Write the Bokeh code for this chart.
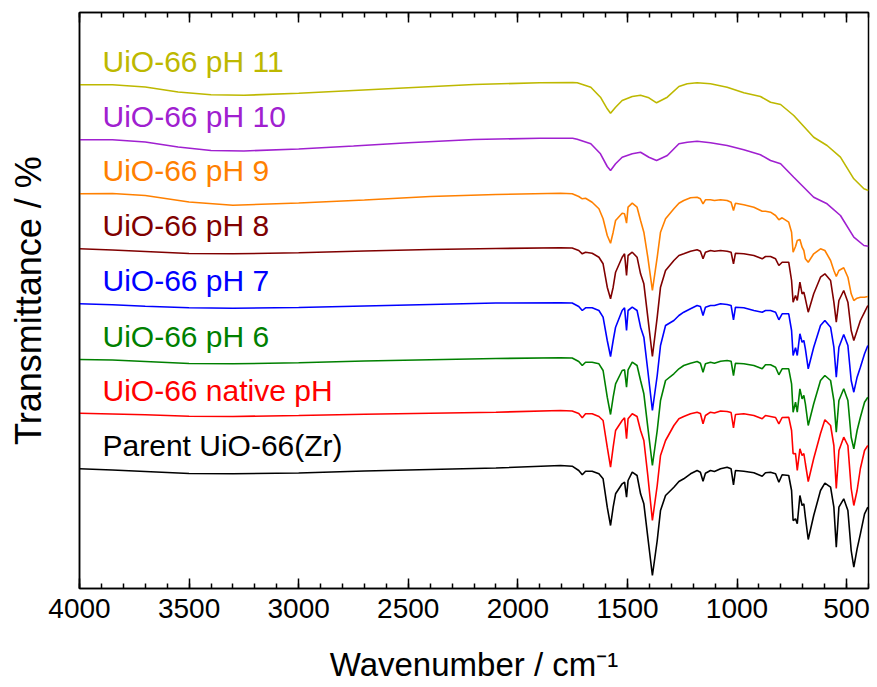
from bokeh.plotting import figure
from bokeh.models import (Range1d, LinearAxis, SingleIntervalTicker, FixedTicker,
                          CustomJSTickFormatter, ColumnDataSource)
from bokeh.core.properties import value
from bokeh.embed import file_html
from bokeh.resources import INLINE

# ---------------- data (wavenumber / cm-1, transmittance in arbitrary offset units) ----------------
wn_fine = [4000, 3850, 3700, 3500, 3300, 3000, 2700, 2400, 2100, 1805,
           1752, 1722, 1706, 1691, 1661, 1630, 1611, 1592, 1577, 1565,
           1554, 1524, 1513, 1504, 1497, 1478, 1456, 1440, 1425, 1407,
           1386, 1364, 1349, 1326, 1288, 1265, 1243, 1212, 1182, 1167,
           1155, 1144, 1121, 1103, 1075, 1045, 1027, 1016, 1007, 969,
           923, 885, 870, 847, 824, 809, 794, 764, 751, 744,
           733, 725, 713, 703, 695, 688, 675, 650, 619, 599,
           573, 558, 547, 535, 513, 494, 479, 467, 452, 437, 418, 403]

t_parent = [119.7, 118.5, 117, 115, 114.7, 115.5, 117.5, 119, 120.5, 123,
            122.3, 118, 113.7, 117.3, 117.3, 114.7, 109.7, 81.3, 63, 81.3,
            94.7, 104.7, 106.3, 91.3, 108, 116.3, 113, 94.7, 84.7, 51.3,
            13, 48, 78, 93, 101.3, 107, 109.7, 114.7, 118, 116.3,
            107.3, 115.3, 118, 117, 119.7, 121.3, 119.7, 103.7, 118, 117.3,
            115.7, 112.3, 115.7, 116.3, 114.7, 106.3, 113.7, 113, 98, 68,
            69.7, 64.7, 93, 83, 84.7, 71.3, 49, 73, 98, 105.3,
            101.3, 81.3, 41.3, 81.3, 89.7, 78, 38, 21.3, 39.7, 54.7, 74.7, 81.3]

t_native = [175.3, 174.5, 173.7, 172.3, 172, 173, 174.3, 175.3, 176.3, 178,
            177.5, 175, 170.7, 174.7, 174.7, 172, 168, 141.3, 121.3, 141.3,
            158, 168, 170.7, 149.7, 169.7, 174.7, 172, 158, 148, 113,
            68, 103, 133, 148, 163, 169.7, 172, 174.7, 176.3, 175,
            164.7, 173, 176.3, 175.5, 177.5, 177, 176, 160.7, 174, 174.7,
            173, 169.7, 173, 172, 171, 164.7, 171, 171.3, 158, 134.7,
            135, 118, 139.7, 133, 135, 125, 107, 130, 155, 168.7,
            163, 143, 100, 138, 151.3, 143, 100, 83, 98, 120, 138, 143]

t_ph6 = [229, 228.5, 227, 225, 224.7, 225.7, 227.5, 228.7, 230, 230.7,
         230.5, 227, 223, 226.3, 226.3, 224.7, 218, 191.3, 174, 191.3,
         204.7, 218, 218.7, 201.3, 218.7, 226.3, 223, 208, 194.7, 161.3,
         123, 158, 188, 208, 214.7, 219.7, 223, 225.3, 227, 225.3,
         216.3, 224.7, 226.3, 225.3, 227.3, 228, 227.3, 213, 225.3, 224.7,
         223, 219.7, 223.7, 223.7, 221.3, 213.7, 219.7, 219.7, 204.7, 176.3,
         186.3, 176.3, 199.7, 189.7, 193, 184.7, 163, 184.7, 208, 213,
         208, 188, 156.3, 188, 199.7, 188, 151.3, 139.7, 158, 171.3, 186.3, 191.3]

t_ph7 = [284.7, 283.7, 282.3, 280.7, 280.3, 281, 282.5, 284, 285.5, 285.7,
         285.5, 282, 278, 280.7, 280.7, 278, 271.3, 248, 232, 248,
         261.3, 278, 280.7, 258, 278, 281.3, 278, 261.3, 251.3, 218,
         178, 213, 243, 263, 268, 273, 276.3, 279.7, 283, 282,
         273, 281.3, 283, 283, 284.7, 284, 283, 268.7, 281.3, 280.7,
         278, 276.3, 278, 278, 276.3, 268.7, 274.7, 274.7, 258, 233,
         240.7, 233, 254.7, 246.3, 248, 239.7, 219.7, 241.3, 263, 268,
         261.3, 241.3, 211.3, 241.3, 254, 243, 208, 196.3, 211.3, 221.3, 234.7, 243]

t_ph8 = [339.7, 338.5, 337, 335, 334.7, 335.7, 337.5, 339, 340, 340.7,
         340.5, 338, 334.7, 336.3, 335.3, 331.3, 324.7, 301.3, 289.7, 301.3,
         316.3, 331.3, 334.7, 313, 333, 336.3, 331.3, 314.7, 304.7, 271.3,
         232, 271.3, 301.3, 318, 328, 333, 334.7, 337.3, 338.7, 337.3,
         329.7, 336.3, 338, 337.3, 338, 337.3, 336.3, 324.7, 335.3, 334.7,
         333, 329.7, 332, 332, 329.7, 323, 326.3, 326.3, 308, 286.3,
         293, 288, 306.3, 294.7, 296.3, 289.7, 276.3, 294.7, 311.3, 314.7,
         308, 286.3, 266.3, 288, 298, 286.3, 258, 248, 258, 268, 276.3, 283]

t_ph9 = [394.7, 395, 393, 386.5, 383.3, 385.5, 388.5, 392, 394, 395.3,
         394.7, 392, 389.7, 390.3, 386.3, 379.7, 369.7, 353, 345.3, 356.3,
         368, 375.3, 374.7, 365.3, 381.3, 385.3, 381.3, 368, 356.3, 331.3,
         298, 331.3, 356.3, 369.7, 379.7, 385.3, 388, 390.7, 391.3, 389.7,
         384.7, 388.7, 388.7, 388, 388.7, 388, 386.3, 378, 385.3, 383.7,
         381.3, 377.3, 377.3, 376.3, 373, 368.7, 370.7, 366.3, 356.3, 336.3,
         342, 348, 349, 341.3, 338, 329.7, 326.3, 334.7, 339.7, 338,
         328, 318, 312, 318, 320.7, 311.3, 294.7, 288, 290.3, 291.3, 291.3, 292]

wn_broad = [4000, 3850, 3700, 3550, 3400, 3250, 3000, 2750, 2500, 2200,
            1900, 1750, 1729, 1667, 1623, 1592, 1577, 1554, 1524, 1478,
            1440, 1402, 1367, 1318, 1265, 1227, 1182, 1121, 1045, 969,
            893, 847, 801, 741, 650, 589, 528, 467, 421, 400]

t_ph10 = [448.7, 448.7, 446.5, 441.5, 438, 437.5, 439.5, 442.5, 445.7, 449,
          450.3, 450.3, 449.3, 444.7, 434.7, 422, 418, 424.7, 431.3, 434.7,
          436.3, 431.3, 428, 433, 444.7, 446.3, 447.3, 445.7, 443, 438.7,
          433.7, 428, 424.7, 411.3, 391.3, 384.7, 373, 351.3, 343, 342.3]

t_ph11 = [503.7, 503.7, 501.5, 496.5, 493.7, 493.2, 495.3, 498, 500.7, 504,
          505.7, 506, 505.7, 501.3, 491.3, 479.7, 475.3, 481.3, 488, 492,
          493.3, 490.7, 485.7, 491.3, 502, 504.7, 505.7, 504.7, 501.3, 495.7,
          492, 486.3, 484, 473, 451.3, 443, 431.3, 409.7, 399.7, 398]

series_names = ["Parent UiO-66(Zr)", "UiO-66 native pH", "UiO-66 pH 6", "UiO-66 pH 7",
                "UiO-66 pH 8", "UiO-66 pH 9", "UiO-66 pH 10", "UiO-66 pH 11"]
series_x = [wn_fine, wn_fine, wn_fine, wn_fine, wn_fine, wn_fine, wn_broad, wn_broad]
series_y = [t_parent, t_native, t_ph6, t_ph7, t_ph8, t_ph9, t_ph10, t_ph11]
series_colors = ["#000000", "#FF0000", "#008000", "#0000FF",
                 "#800000", "#FF8000", "#A020D0", "#BDB800"]

x_ticks_major = 500

# ---------------- figure ----------------
FONT = "Liberation Sans"

p = figure(frame_width=789, frame_height=576,
           x_range=Range1d(4000, 400), y_range=Range1d(0, 576),
           output_backend="svg", toolbar_location=None,
           min_border_left=79, min_border_right=9, min_border_top=12, min_border_bottom=99)
p.grid.visible = False
p.outline_line_color = "black"
p.outline_line_width = 1.5
p.background_fill_color = "white"
p.border_fill_color = "white"

for xs, ys, c in zip(series_x, series_y, series_colors):
    p.line(xs, ys, line_color=c, line_width=1.6)

# labels above each trace
lab_src = ColumnDataSource(dict(
    x=[4000 - 105] * len(series_names),
    y=[ys[0] + 23 for ys in series_y],
    text=series_names,
    color=series_colors,
))
p.text(x="x", y="y", text="text", text_color="color", source=lab_src,
       text_font=value(FONT), text_font_size="30px",
       text_align="left", text_baseline="alphabetic")

# bottom axis
ax = p.xaxis[0]
ax.ticker = SingleIntervalTicker(interval=x_ticks_major, num_minor_ticks=5)
ax.major_tick_in = 10
ax.major_tick_out = 0
ax.minor_tick_in = 5
ax.minor_tick_out = 0
ax.axis_line_width = 1.5
ax.major_tick_line_width = 1.5
ax.minor_tick_line_width = 1.5
ax.major_label_text_font = FONT
ax.major_label_text_font_size = "28px"
ax.major_label_text_color = "black"
ax.major_label_standoff = 10
ax.axis_label = "Wavenumber / cm\u207b\u00b9"
ax.axis_label_text_font = FONT
ax.axis_label_text_font_size = "33px"
ax.axis_label_text_font_style = "normal"
ax.axis_label_text_color = "black"
ax.axis_label_standoff = 25

# top axis (ticks only)
top = LinearAxis(ticker=SingleIntervalTicker(interval=x_ticks_major, num_minor_ticks=5),
                 formatter=CustomJSTickFormatter(code="return ''"),
                 major_tick_in=10, major_tick_out=0, minor_tick_in=5, minor_tick_out=0,
                 axis_line_width=1.5, major_tick_line_width=1.5, minor_tick_line_width=1.5,
                 major_label_text_font_size="0px", major_label_standoff=0)
p.add_layout(top, "above")

# left axis (label only)
ay = p.yaxis[0]
ay.ticker = FixedTicker(ticks=[])
ay.axis_line_width = 1.5
ay.axis_label = "Transmittance / %"
ay.axis_label_text_font = FONT
ay.axis_label_text_font_size = "36px"
ay.axis_label_text_font_style = "normal"
ay.axis_label_text_color = "black"
ay.axis_label_standoff = 31

open("out.html", "w").write(file_html(p, INLINE))
